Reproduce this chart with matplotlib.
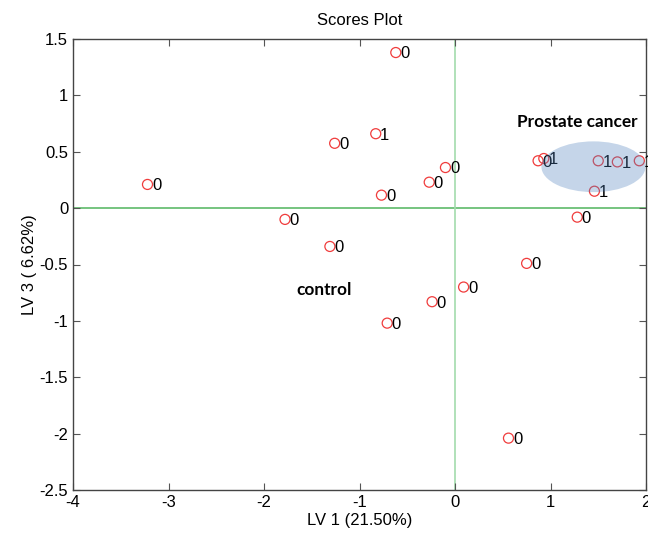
import matplotlib
matplotlib.use("Agg")
import matplotlib.pyplot as plt
from matplotlib.patches import Ellipse

# Scores (LV1, LV3) and class labels
lv1 = [-0.62, -0.83, -1.26, -3.22, -0.10, -0.27, -0.77, -1.78, -1.31,
       0.87, 0.93, 1.50, 1.70, 1.93, 1.46, 1.28, 0.75, 0.09, -0.24, -0.71, 0.56]
lv3 = [1.38, 0.66, 0.575, 0.21, 0.36, 0.23, 0.115, -0.10, -0.34,
       0.42, 0.44, 0.42, 0.41, 0.42, 0.15, -0.08, -0.49, -0.70, -0.83, -1.02, -2.04]
labels = ['0', '1', '0', '0', '0', '0', '0', '0', '0',
          '0', '1', '1', '1', '1', '1', '0', '0', '0', '0', '0', '0']

xticks = [-4, -3, -2, -1, 0, 1, 2]
yticks = [-2.5, -2, -1.5, -1, -0.5, 0, 0.5, 1, 1.5]

plt.rcParams['font.family'] = ['Liberation Sans', 'DejaVu Sans']

fig = plt.figure(figsize=(6.48, 5.35), dpi=100)
ax = fig.add_axes([73/648, 1-490/535, (646-73)/648, (490-39)/535])

ax.axhline(0, color='#5dba6a', lw=1.2, zorder=1)
ax.axvline(0, color='#a3dbad', lw=1.2, zorder=1)

ax.scatter(lv1, lv3, s=52, facecolors='none', edgecolors='#f03c3c', linewidths=0.9, zorder=3)
for xv, yv, lab in zip(lv1, lv3, labels):
    ax.annotate(lab, (xv, yv), xytext=(3.2, -1), textcoords='offset points',
                ha='left', va='center', fontsize=12, color='black', zorder=4,
                annotation_clip=False)

ell = Ellipse((1.45, 0.367), 1.09, 0.45, facecolor='#4f81bd', alpha=0.33,
              edgecolor='none', zorder=5)
ax.add_patch(ell)

ax.text(0.65, 0.76, 'Prostate cancer', family='Lato', fontweight='bold',
        fontsize=12.4, ha='left', va='center', zorder=6)
ax.text(-1.66, -0.73, 'control', family='Lato', fontweight='bold',
        fontsize=12.4, ha='left', va='center', zorder=6)

ax.set_xlim(-4, 2)
ax.set_ylim(-2.5, 1.5)
ax.set_xticks(xticks)
ax.set_yticks(yticks)
ax.set_xticklabels([f'{t:g}' for t in xticks])
ax.set_yticklabels([f'{t:g}' for t in yticks])
ax.tick_params(direction='in', length=5, width=0.8, color='#555555',
               top=True, right=True, labelsize=12, pad=3.5)
for s in ax.spines.values():
    s.set_color('#444444')
    s.set_linewidth(1.0)

ax.set_title('Scores Plot', fontsize=12, pad=10)
ax.set_xlabel('LV 1 (21.50%)', fontsize=12, labelpad=2)
ax.set_ylabel('LV 3 ( 6.62%)', fontsize=12, labelpad=2)

fig.savefig('out.png', dpi=100)
